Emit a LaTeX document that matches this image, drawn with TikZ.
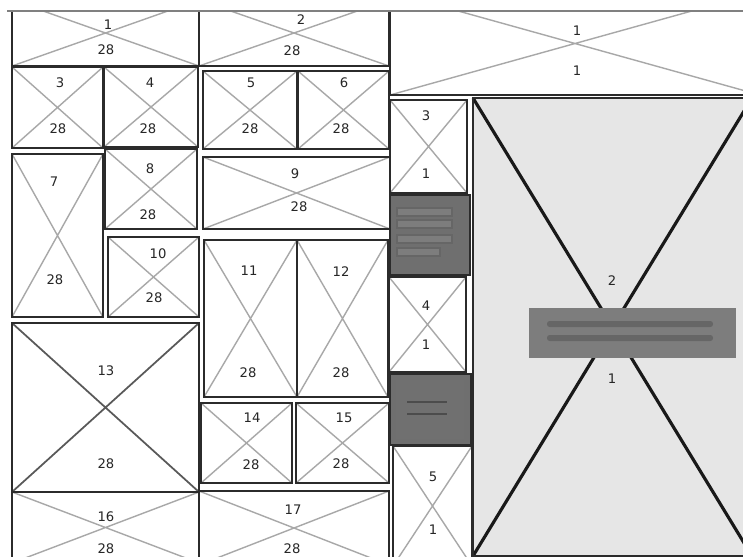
\documentclass[tikz,border=0pt]{standalone}
\usepackage{fontspec}
\setmainfont{DejaVu Sans}

\definecolor{boxline}{HTML}{2B2B2B}
\definecolor{crossgrey}{HTML}{A8A8A8}
\definecolor{panelgrey}{HTML}{E6E6E6}
\definecolor{blockgrey}{HTML}{6F6F6F}
\definecolor{bargrey}{HTML}{848484}

\tikzset{
  wirebox/.style={draw=boxline, line width=1.3pt},
  wirecross/.style={draw=crossgrey, line width=0.8pt},
  num/.style={font=\fontsize{7.5}{9}\selectfont, text=black!85, inner sep=0pt},
}

\begin{document}
\begin{tikzpicture}[x=0.02cm, y=-0.02cm]
  \useasboundingbox (0,0) rectangle (743,556);

  \begin{scope}
    \clip (0,11) rectangle (743,556);

    % wireframe boxes with light crosses
    \foreach \xa/\ya/\xb/\yb in {12/0/199/66, 199/0/389/66,
        12/67/103/148, 104/67/198/147, 203/71/297/149, 298/71/389/149,
        12/154/103/317, 105/149/197/229, 203/157/390/229, 108/237/199/317,
        204/240/297/397, 297/240/388/397, 201/403/292/483, 296/403/389/483,
        12/492/199/563, 199/491/389/565,
        390/-8/760/95, 390/100/467/193, 389/277/466/372, 393/446/472/566} {
        \fill[white] (\xa,\ya) rectangle (\xb,\yb);
        \draw[wirecross] (\xa,\ya) -- (\xb,\yb) (\xa,\yb) -- (\xb,\ya);
        \draw[wirebox] (\xa,\ya) rectangle (\xb,\yb);
      }

    % box 13, darker cross
    \draw[wirecross, draw=black!65, line width=1pt] (12,323) -- (199,492) (12,492) -- (199,323);
    \draw[wirebox] (12,323) rectangle (199,492);

    % big panel on the right
    \fill[panelgrey] (473,98) rectangle (752,556);
    \draw[draw=black!90, line width=1.8pt] (473,98) -- (752,556) (473,556) -- (752,98);
    \draw[wirebox] (473,98) rectangle (752,556);

    % grey bar in the panel
    \fill[bargrey!95!black] (529,308) rectangle (736,358);
    \foreach \ya in {321,335}
      \fill[black!60, rounded corners=1.5pt] (547,\ya) rectangle (713,\ya+6);

    % grey blocks in the middle column
    \filldraw[fill=blockgrey, draw=boxline, line width=1pt] (390,195) rectangle (470,275);
    \foreach \ya/\xb in {208/452, 220/452, 235/452, 248/440}
      \filldraw[fill=blockgrey!90!white, draw=black!60, line width=0.6pt] (397,\ya) rectangle (\xb,\ya+8);
    \filldraw[fill=blockgrey, draw=boxline, line width=1pt] (390,374) rectangle (471,445);
    \fill[bargrey!85!black] (396,380) rectangle (464,439);
    \foreach \ya in {402,414}
      \draw[black!70, line width=1.3pt] (407,\ya) -- (447,\ya);
  \end{scope}

  % top edge
  \draw[black!50, line width=0.6pt] (7,11) -- (743,11);

  % numbers
  \foreach \n/\x/\y/\t in {a1/108/25/1, b1/106/50/28, a2/301/20/2, b2/292/51/28,
      a3/60/83/3, b3/58/129/28, a4/150/83/4, b4/148/129/28,
      a5/251/83/5, b5/250/129/28, a6/344/83/6, b6/341/129/28,
      a7/54/182/7, b7/55/280/28, a8/150/169/8, b8/148/215/28,
      a9/295/174/9, b9/299/207/28, a10/158/254/10, b10/154/298/28,
      a11/249/271/11, b11/248/373/28, a12/341/272/12, b12/341/373/28,
      a13/106/371/13, b13/106/464/28, a14/252/418/14, b14/251/465/28,
      a15/344/418/15, b15/341/464/28, a16/106/517/16, b16/106/549/28,
      a17/293/510/17, b17/292/549/28,
      r1a/577/31/1, r1b/577/71/1, r3a/426/116/3, r3b/426/174/1,
      r4a/426/306/4, r4b/426/345/1, r5a/433/477/5, r5b/433/530/1,
      r2a/612/281/2, r2b/612/379/1} {
      \node[num] (\n) at (\x,\y) {\t};
    }
\end{tikzpicture}
\end{document}
